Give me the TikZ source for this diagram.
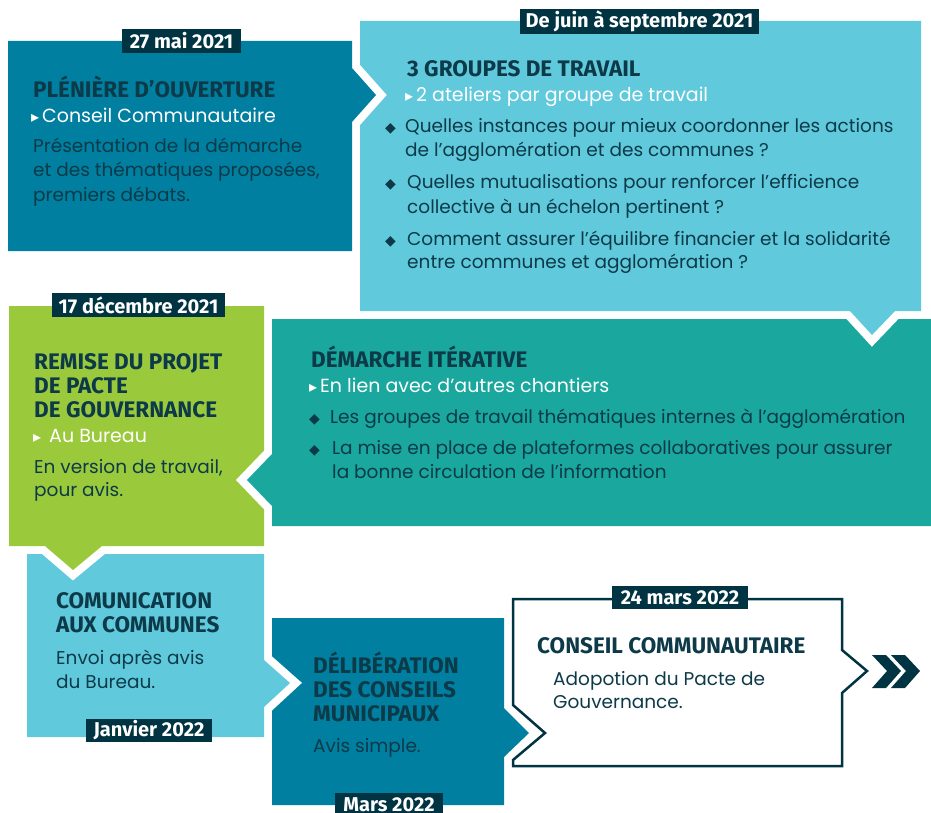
\documentclass[tikz,border=0pt]{standalone}
\usepackage{fontspec}
\setmainfont{Poppins}
\newfontfamily\headfont{Fira Sans}
\newfontfamily\symfont{DejaVu Sans}
\definecolor{navy}{RGB}{0,52,66}
\definecolor{navytext}{RGB}{12,58,72}
\definecolor{blueA}{RGB}{0,127,160}
\definecolor{lightB}{RGB}{96,201,220}
\definecolor{tealC}{RGB}{25,167,158}
\definecolor{greenD}{RGB}{155,201,60}
\newcommand{\tri}{{\symfont\fontsize{16}{16}\selectfont ▸}\hspace{3pt}}
\tikzset{
  head/.style={anchor=base west, inner sep=0pt, text=navytext, font=\headfont\bfseries\fontsize{22.5}{26}\selectfont},
  sub/.style={anchor=base west, inner sep=0pt, text=white, font=\fontsize{19}{22}\selectfont},
  body/.style={anchor=base west, inner sep=0pt, text=navytext, font=\fontsize{18.5}{22}\selectfont},
  bul/.style={anchor=base west, inner sep=0pt, text=navytext, font=\symfont\fontsize{14}{14}\selectfont},
  datebox/.style={fill=navy, text=white, inner sep=0pt, font=\headfont\bfseries\fontsize{20}{24}\selectfont},
  halo/.style={draw=white, line width=16pt, miter limit=10},
}
\begin{document}
\begin{tikzpicture}[x=1pt,y=-1pt]
\useasboundingbox[fill=white] (0,0) rectangle (931,813);
% box 7 (white outlined)
\draw[navy, line width=2.5pt, fill=white] (513,599) -- (842,599) -- (842,650) -- (867,671) -- (842,693) -- (842,766) -- (513,766) -- (513,760) -- (545,733) -- (513,705) -- cycle;
% box 6
\fill[blueA] (272,618) -- (504,618) -- (504,708) -- (529,733) -- (504,757) -- (504,805) -- (272,805) -- cycle;
% box 5
\draw[halo] (264,660) -- (290,683) -- (264,707);
\fill[lightB] (27,554) -- (264,554) -- (264,660) -- (290,683) -- (264,707) -- (264,737) -- (27,737) -- cycle;
% green
\draw[halo] (45,546) -- (73,570) -- (102,546);
\fill[greenD] (9,306) -- (264,306) -- (264,546) -- (102,546) -- (73,570) -- (45,546) -- (9,546) -- cycle;
% box 3
\draw[halo] (272,454) -- (247,480) -- (272,506);
\fill[tealC] (272,319) -- (931,319) -- (931,526) -- (272,526) -- (272,506) -- (247,480) -- (272,454) -- cycle;
% box 2
\draw[halo] (850,311) -- (872,335) -- (895,311);
\fill[lightB] (360,21) -- (921,21) -- (921,311) -- (895,311) -- (872,335) -- (850,311) -- (360,311) -- cycle;
% box 1
\draw[halo] (352,68) -- (376,95) -- (352,122);
\fill[blueA] (8,41) -- (352,41) -- (352,68) -- (376,95) -- (352,122) -- (352,251) -- (8,251) -- cycle;
% chevrons
\fill[navy] (872,655) -- (886,655) -- (901,671) -- (886,688) -- (872,688) -- (887,671) -- cycle;
\fill[navy] (891,655) -- (905,655) -- (920,671) -- (905,688) -- (891,688) -- (906,671) -- cycle;

% box 1 text
\node[head] (t1h) at (33,98) {PLÉNIÈRE D’OUVERTURE};
\node[sub] (t1s) at (31,123) {\tri Conseil Communautaire};
\node[body] (t1a) at (33,153) {Présentation de la démarche};
\node[body] (t1b) at (33,177) {et des thématiques proposées,};
\node[body] (t1c) at (33,201) {premiers débats.};
% box 2 text
\node[head] (t2h) at (407,77) {3 GROUPES DE TRAVAIL};
\node[sub] (t2s) at (405,102) {\tri 2 ateliers par groupe de travail};
\node[bul] (b21) at (385,133) {◆};
\node[body] (t2a) at (405,133) {Quelles instances pour mieux coordonner les actions};
\node[body] (t2b) at (405,157) {de l’agglomération et des communes ?};
\node[bul] (b22) at (385,189) {◆};
\node[body] (t2c) at (407,189) {Quelles mutualisations pour renforcer l’efficience};
\node[body] (t2d) at (407,213) {collective à un échelon pertinent ?};
\node[bul] (b23) at (385,245) {◆};
\node[body] (t2e) at (407,245) {Comment assurer l’équilibre financier et la solidarité};
\node[body] (t2f) at (407,268) {entre communes et agglomération ?};
% box 3 text
\node[head] (t3h) at (311,367) {DÉMARCHE ITÉRATIVE};
\node[sub] (t3s) at (309,392) {\tri En lien avec d’autres chantiers};
\node[bul] (b31) at (309,423) {◆};
\node[body] (t3a) at (330,423) {Les groupes de travail thématiques internes à l’agglomération};
\node[bul] (b32) at (309,454) {◆};
\node[body] (t3b) at (332,454) {La mise en place de plateformes collaboratives pour assurer};
\node[body] (t3c) at (332,478) {la bonne circulation de l’information};
% green text
\node[head] (t4h) at (34,369) {REMISE DU PROJET};
\node[head] (t4i) at (34,393) {DE PACTE};
\node[head] (t4j) at (34,417) {DE GOUVERNANCE};
\node[sub] (t4s) at (33,442) {\tri\hspace{5pt}Au Bureau};
\node[body] (t4a) at (34,473) {En version de travail,};
\node[body] (t4b) at (34,496) {pour avis.};
% box 5 text
\node[head] (t5h) at (56,608) {COMUNICATION};
\node[head] (t5i) at (56,632) {AUX COMMUNES};
\node[body] (t5a) at (56,664) {Envoi après avis};
\node[body] (t5b) at (56,688) {du Bureau.};
% box 6 text
\node[head] (t6h) at (313,673) {DÉLIBÉRATION};
\node[head] (t6i) at (313,697) {DES CONSEILS};
\node[head] (t6j) at (313,721) {MUNICIPAUX};
\node[body] (t6a) at (313,752) {Avis simple.};
% box 7 text
\node[head] (t7h) at (537,653) {CONSEIL COMMUNAUTAIRE};
\node[body] (t7a) at (553,685) {Adopotion du Pacte de};
\node[body] (t7b) at (553,708) {Gouvernance.};
% dates
\node[datebox, minimum width=119pt, minimum height=24pt] (d1) at (181.5,41) {27 mai 2021};
\node[datebox, minimum width=239pt, minimum height=25pt] (d2) at (639.5,21.5) {De juin à septembre 2021};
\node[datebox, minimum width=173pt, minimum height=24pt] (d3) at (138.5,305) {17 décembre 2021};
\node[datebox, minimum width=126pt, minimum height=23pt] (d4) at (149,730.5) {Janvier 2022};
\node[datebox, minimum width=108pt, minimum height=24pt] (d5) at (389,805) {Mars 2022};
\node[datebox, minimum width=136pt, minimum height=23pt] (d6) at (680,597.5) {24 mars 2022};
\end{tikzpicture}
\end{document}
